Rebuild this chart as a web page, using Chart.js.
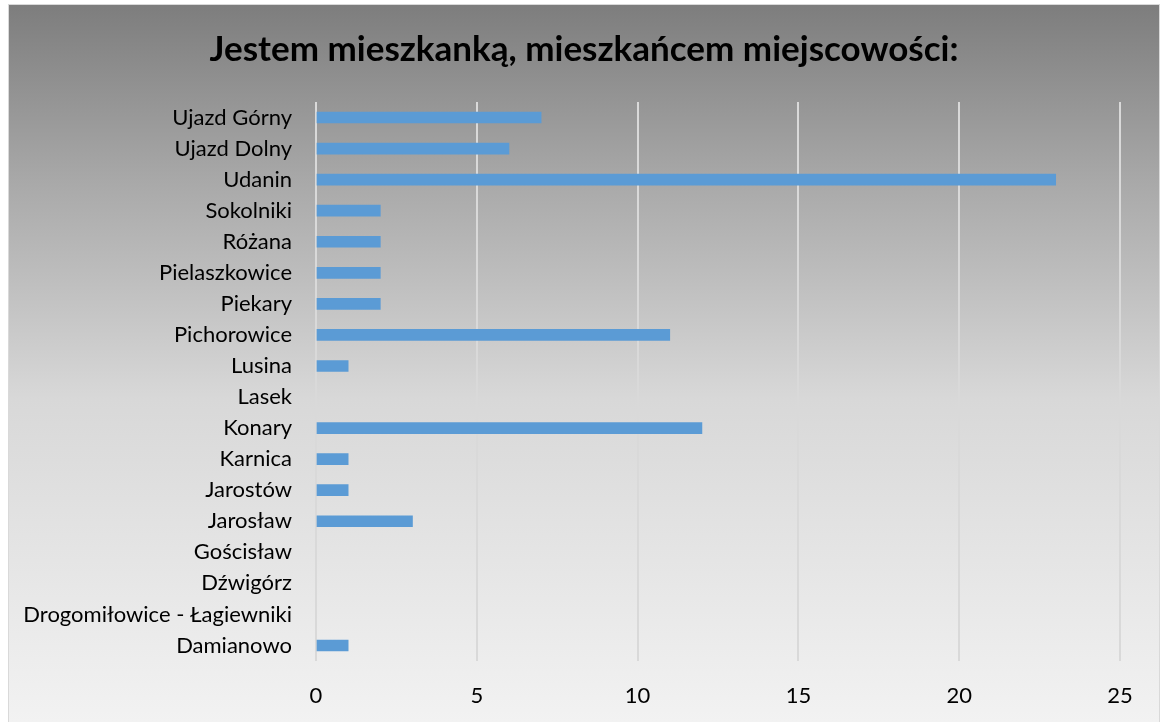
<!DOCTYPE html>
<html>
<head>
<meta charset="utf-8">
<script src="https://cdn.jsdelivr.net/npm/chart.js@4"></script>
<style>
html,body{margin:0;padding:0;background:#fff;}
#wrap{width:1161px;height:722px;position:relative;}
</style>
</head>
<body>
<div id="wrap"><canvas id="c" width="1161" height="722"></canvas></div>
<script>
const chartTitle = "Jestem mieszkanką, mieszkańcem miejscowości:";
const categories = ["Ujazd Górny","Ujazd Dolny","Udanin","Sokolniki","Różana","Pielaszkowice","Piekary","Pichorowice","Lusina","Lasek","Konary","Karnica","Jarostów","Jarosław","Gościsław","Dźwigórz","Drogomiłowice - Łagiewniki","Damianowo"];
const values = [7,6,23,2,2,2,2,11,1,0,12,1,1,3,0,0,0,1];
const xTicks = [0,5,10,15,20,25];

const bgPlugin = {
  id: 'bg',
  beforeDraw(chart) {
    const ctx = chart.ctx;
    ctx.save();
    ctx.fillStyle = '#ffffff';
    ctx.fillRect(0,0,chart.width,chart.height);
    const g = ctx.createLinearGradient(0,4,0,722);
    g.addColorStop(0,'#7d7d7d');
    g.addColorStop(0.25,'#a9a9a9');
    g.addColorStop(0.55,'#d8d8d8');
    g.addColorStop(1,'#f2f2f2');
    ctx.fillStyle = g;
    ctx.fillRect(8,4,1152,718);
    ctx.strokeStyle = '#d9d9d9';
    ctx.lineWidth = 1;
    ctx.strokeRect(8.5,4.5,1151,720);
    ctx.restore();
  }
};

new Chart(document.getElementById('c'), {
  type: 'bar',
  data: {
    labels: categories,
    datasets: [{
      data: values.map(v => v === 0 ? null : v),
      backgroundColor: '#5b9bd5',
      borderWidth: 0,
      barThickness: 11
    }]
  },
  options: {
    indexAxis: 'y',
    responsive: false,
    animation: false,
    layout: { padding: { left: 8, right: 1, top: 0, bottom: 0 } },
    plugins: {
      legend: { display: false },
      tooltip: { enabled: false },
      title: {
        display: true,
        text: chartTitle,
        color: '#000000',
        font: { family: 'Lato', size: 35, weight: 'bold', lineHeight: 1.2 },
        padding: { top: 29, bottom: 31 }
      }
    },
    scales: {
      x: {
        min: 0, max: 25,
        afterBuildTicks(scale) { scale.ticks = xTicks.map(v => ({ value: v })); },
        grid: { color: '#d9d9d9', lineWidth: 2, drawTicks: false },
        border: { display: false },
        ticks: { color: '#000000', font: { family: 'Lato', size: 22 }, padding: 22 },
        afterFit(scale) { scale.height = 61; scale.paddingRight = 41; }
      },
      y: {
        grid: { display: false },
        border: { display: false },
        ticks: { color: '#000000', font: { family: 'Lato', size: 22 }, padding: 16, autoSkip: false },
        afterFit(scale) { scale.width = 308; }
      }
    }
  },
  plugins: [bgPlugin]
});
</script>
</body>
</html>
